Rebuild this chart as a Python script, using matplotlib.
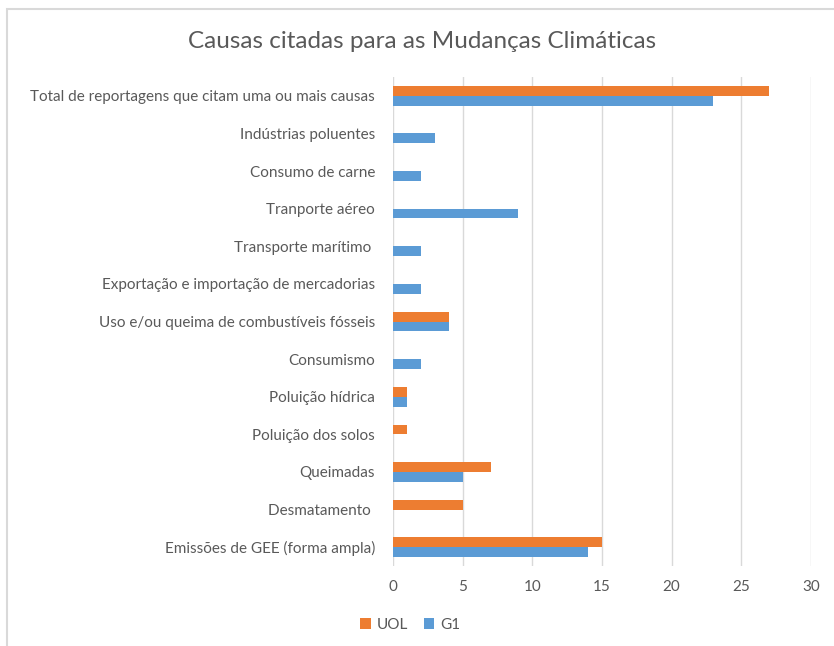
import matplotlib.pyplot as plt
import matplotlib.patches as patches
import numpy as np

# Dados (de cima para baixo)
categorias = [
    "Total de reportagens que citam uma ou mais causas",
    "Indústrias poluentes",
    "Consumo de carne",
    "Tranporte aéreo",
    "Transporte marítimo ",
    "Exportação e importação de mercadorias",
    "Uso e/ou queima de combustíveis fósseis",
    "Consumismo",
    "Poluição hídrica",
    "Poluição dos solos",
    "Queimadas",
    "Desmatamento ",
    "Emissões de GEE (forma ampla)",
]
uol = [27, 0, 0, 0, 0, 0, 4, 0, 1, 1, 7, 5, 15]
g1 = [23, 3, 2, 9, 2, 2, 4, 2, 1, 0, 5, 0, 14]
xticks = [0, 5, 10, 15, 20, 25, 30]

cor_uol = '#ED7D31'
cor_g1 = '#5B9BD5'
cinza = '#595959'
fonte = 'Lato'

fig = plt.figure(figsize=(8.34, 6.46), dpi=100)
ax = fig.add_axes([0.4712, 0.1238, 0.5012, 0.757])

# Moldura do gráfico (sem borda inferior/direita visível)
moldura = patches.Rectangle((7 / 834, -0.05), 1.2, 1.05 - 9 / 646, transform=fig.transFigure,
                            fill=False, edgecolor='#d9d9d9', linewidth=1.5, clip_on=False)
fig.add_artist(moldura)

y = np.arange(len(categorias))
h = 0.26
ax.barh(y - h / 2, uol, height=h, color=cor_uol, label='UOL', zorder=3)
ax.barh(y + h / 2, g1, height=h, color=cor_g1, label='G1', zorder=3)

ax.set_ylim(len(categorias) - 0.5, -0.5)
ax.set_xlim(0, 30)
ax.set_xticks(xticks)
ax.set_yticks(y)
ax.set_yticklabels(categorias)
ax.grid(axis='x', color='#d9d9d9', linewidth=1, zorder=0)
for s in ax.spines.values():
    s.set_visible(False)
ax.tick_params(axis='both', length=0, colors=cinza, labelsize=11)
ax.tick_params(axis='y', pad=13)
ax.tick_params(axis='x', pad=10)
for lbl in ax.get_xticklabels() + ax.get_yticklabels():
    lbl.set_fontfamily(fonte)
    lbl.set_color(cinza)

fig.text(0.506, 0.935, "Causas citadas para as Mudanças Climáticas", ha='center', va='center',
         fontsize=17.5, color=cinza, fontfamily=fonte)

leg = fig.legend(loc='center', bbox_to_anchor=(0.492, 0.033), ncol=2, frameon=False,
                 handlelength=0.7, handleheight=0.7, handletextpad=0.4, columnspacing=1.0,
                 prop={'family': fonte, 'size': 11})
for t in leg.get_texts():
    t.set_color(cinza)

fig.savefig('out.png', dpi=100)
